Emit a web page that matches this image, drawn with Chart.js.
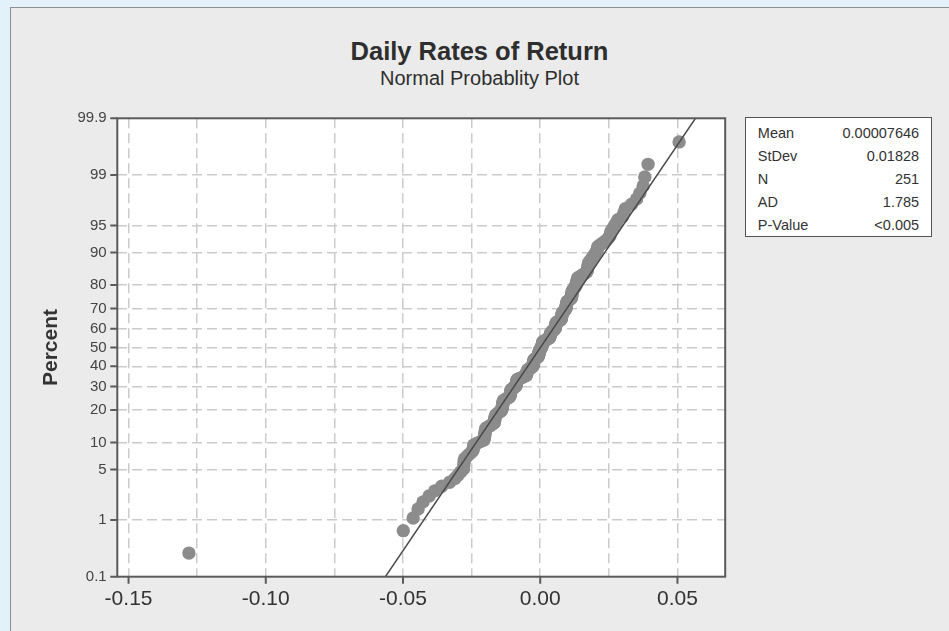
<!DOCTYPE html>
<html>
<head>
<meta charset="utf-8">
<script src="https://cdn.jsdelivr.net/npm/chart.js@4.4.0/dist/chart.umd.min.js"></script>
<style>
html,body{margin:0;padding:0;width:949px;height:631px;overflow:hidden;background:#e3f2fa;font-family:"Liberation Sans",Arial,sans-serif;}
#panel{position:absolute;left:10px;top:7px;width:960px;height:640px;background:#ebebeb;border:1px solid #8f8f8f;box-sizing:border-box;}
#wrap{position:absolute;left:0;top:0;width:949px;height:631px;}
.t{position:absolute;left:10px;width:939px;text-align:center;color:#2e2e2e;white-space:nowrap;}
#title{top:39.4px;font-size:25.5px;line-height:25.5px;font-weight:bold;}
#subtitle{top:68.1px;font-size:20px;line-height:20px;}
#stats{position:absolute;left:745px;top:117px;width:187px;height:120px;box-sizing:border-box;border:1.5px solid #555;background:#fff;padding:4.3px 11.9px 0 11.8px;font-size:14.5px;color:#333;}
#stats .r{display:flex;justify-content:space-between;height:22.9px;line-height:22.9px;}
</style>
</head>
<body>
<div id="panel"></div>
<div id="title" class="t">Daily Rates of Return</div>
<div id="subtitle" class="t">Normal Probablity Plot</div>
<div id="wrap"><canvas id="c" width="949" height="631"></canvas></div>
<div id="stats"></div>
<script>
// ---- data ----
const statLabels = ["Mean", "StDev", "N", "AD", "P-Value"];
const statValues = ["0.00007646", "0.01828", "251", "1.785", "<0.005"];
const mean = 0.00007646;
const stdev = 0.01828;
const percentTicks = [0.1, 1, 5, 10, 20, 30, 40, 50, 60, 70, 80, 90, 95, 99, 99.9];
const percentLabels = ["0.1","1","5","10","20","30","40","50","60","70","80","90","95","99","99.9"];
const xTickValues = [-0.15, -0.125, -0.10, -0.075, -0.05, -0.025, 0.00, 0.025, 0.05];
const xTickLabels = ["-0.15", "", "-0.10", "", "-0.05", "", "0.00", "", "0.05"];
// sorted daily returns (251 values)
const returns = [
-0.1280,-0.0499,-0.0463,-0.0445,-0.0427,-0.0405,-0.0384,-0.0359,-0.0330,-0.0311,
-0.0300,-0.0290,-0.0280,
-0.0279,-0.0278,-0.0277,-0.0276,-0.0268,-0.0260,-0.0252,-0.0245,-0.0244,-0.0243,
-0.0242,-0.0230,-0.0218,-0.0205,
-0.0204,-0.0203,-0.0202,-0.0202,-0.0201,-0.0200,-0.0199,-0.0198,-0.0190,-0.0182,
-0.0175,-0.0168,-0.0167,-0.0166,-0.0166,-0.0165,-0.0164,-0.0163,-0.0162,-0.0157,
-0.0152,-0.0146,-0.0141,
-0.0140,-0.0139,-0.0139,-0.0138,-0.0137,-0.0137,-0.0136,-0.0135,-0.0135,-0.0134,
-0.0128,-0.0122,-0.0116,-0.0111,-0.0110,-0.0110,-0.0109,-0.0108,-0.0108,-0.0107,
-0.0106,-0.0106,-0.0101,-0.0097,-0.0093,-0.0089,
-0.0088,-0.0088,-0.0087,-0.0086,-0.0086,-0.0085,-0.0084,-0.0084,-0.0077,-0.0070,
-0.0063,-0.0057,-0.0051,-0.0050,-0.0050,-0.0049,-0.0048,-0.0048,-0.0047,-0.0046,
-0.0042,-0.0038,-0.0034,-0.0030,-0.0027,
-0.0026,-0.0026,-0.0025,-0.0025,-0.0024,-0.0024,-0.0023,-0.0023,-0.0022,-0.0018,
-0.0014,-0.0010,-0.0007,-0.0006,-0.0006,-0.0005,-0.0005,-0.0004,-0.0004,-0.0003,
-0.0003,-0.0001,0.0001,0.0003,0.0005,
0.0006,0.0006,0.0007,0.0008,0.0008,0.0009,0.0010,0.0010,0.0015,0.0020,
0.0025,0.0030,0.0034,0.0035,0.0035,0.0036,0.0037,0.0037,0.0038,0.0039,
0.0042,0.0045,0.0048,0.0051,0.0054,
0.0055,0.0055,0.0056,0.0056,0.0057,0.0057,0.0058,0.0058,0.0063,0.0068,
0.0072,0.0076,0.0077,0.0077,0.0078,0.0078,0.0079,0.0079,0.0080,0.0080,
0.0083,0.0086,0.0088,0.0091,0.0093,
0.0094,0.0094,0.0095,0.0095,0.0096,0.0096,0.0097,0.0097,0.0101,0.0105,
0.0109,0.0113,0.0114,0.0114,0.0115,0.0115,0.0116,0.0116,0.0117,0.0117,
0.0120,0.0123,0.0125,0.0128,0.0130,
0.0131,0.0132,0.0133,0.0134,0.0135,0.0136,0.0137,0.0144,0.0151,0.0158,
0.0164,0.0170,0.0171,0.0172,0.0173,0.0174,0.0175,0.0176,0.0177,0.0181,
0.0185,0.0189,0.0193,0.0197,0.0201,0.0205,
0.0207,0.0209,0.0211,0.0220,0.0230,0.0240,0.0248,0.0254,0.0256,0.0258,
0.0264,0.0270,0.0277,
0.0283,0.0300,0.0305,0.0310,0.0333,0.0351,0.0363,0.0375,0.0381,0.0393,
0.0506
];

// ---- stats box ----
const sb = document.getElementById('stats');
statLabels.forEach((l, i) => {
  const r = document.createElement('div'); r.className = 'r';
  const a = document.createElement('span'); a.textContent = l;
  const b = document.createElement('span'); b.textContent = statValues[i];
  r.appendChild(a); r.appendChild(b); sb.appendChild(r);
});

// inverse standard normal CDF (Acklam)
function probit(p) {
  const a=[-3.969683028665376e+01,2.209460984245205e+02,-2.759285104469687e+02,1.383577518672690e+02,-3.066479806614716e+01,2.506628277459239e+00];
  const b=[-5.447609879822406e+01,1.615858368580409e+02,-1.556989798598866e+02,6.680131188771972e+01,-1.328068155288572e+01];
  const c=[-7.784894002430293e-03,-3.223964580411365e-01,-2.400758277161838e+00,-2.549671010050331e+00,4.374664141464968e+00,2.938163982698783e+00];
  const d=[7.784695709041462e-03,3.224671290700398e-01,2.445134137142996e+00,3.754408661907416e+00];
  const pl=0.02425, ph=1-pl; let q, r;
  if (p < pl) { q=Math.sqrt(-2*Math.log(p)); return (((((c[0]*q+c[1])*q+c[2])*q+c[3])*q+c[4])*q+c[5])/((((d[0]*q+d[1])*q+d[2])*q+d[3])*q+1); }
  if (p <= ph) { q=p-0.5; r=q*q; return (((((a[0]*r+a[1])*r+a[2])*r+a[3])*r+a[4])*r+a[5])*q/(((((b[0]*r+b[1])*r+b[2])*r+b[3])*r+b[4])*r+1); }
  q=Math.sqrt(-2*Math.log(1-p)); return -(((((c[0]*q+c[1])*q+c[2])*q+c[3])*q+c[4])*q+c[5])/((((d[0]*q+d[1])*q+d[2])*q+d[3])*q+1);
}

const n = returns.length;
// median-rank plotting positions
const points = returns.map((v, i) => ({ x: v, y: probit((i + 1 - 0.3) / (n + 0.4)) }));
const zMin = probit(0.001), zMax = probit(0.999);
const fitLine = [{ x: mean + zMin * stdev, y: zMin }, { x: mean + zMax * stdev, y: zMax }];

const frame = {
  id: 'frame',
  beforeDraw(chart) {
    const { ctx, chartArea: a } = chart;
    ctx.save(); ctx.fillStyle = '#ffffff';
    ctx.fillRect(a.left, a.top, a.right - a.left, a.bottom - a.top);
    ctx.restore();
  },
  afterDraw(chart) {
    const { ctx, chartArea: a, scales } = chart;
    ctx.save();
    ctx.strokeStyle = '#5a5a5a'; ctx.lineWidth = 2;
    ctx.strokeRect(a.left, a.top, a.right - a.left, a.bottom - a.top);
    ctx.beginPath();
    scales.y.ticks.forEach(t => {
      const y = scales.y.getPixelForValue(t.value);
      ctx.moveTo(a.left - 7, y); ctx.lineTo(a.left, y);
    });
    scales.x.ticks.forEach((t, i) => {
      if (!xTickLabels[i]) return;
      const x = scales.x.getPixelForValue(t.value);
      ctx.moveTo(x, a.bottom); ctx.lineTo(x, a.bottom + 7);
    });
    ctx.stroke();
    ctx.restore();
  }
};

new Chart(document.getElementById('c'), {
  type: 'scatter',
  data: {
    datasets: [
      { label: 'Fit', data: fitLine, showLine: true, borderColor: '#4a4a4a', borderWidth: 1.5, pointRadius: 0, fill: false },
      { label: 'Returns', data: points, pointRadius: 6.7, pointHoverRadius: 6.7, pointBackgroundColor: '#8c8c8c', pointBorderWidth: 0, borderWidth: 0 }
    ]
  },
  options: {
    responsive: false,
    animation: false,
    events: [],
    layout: { padding: { left: 0, top: 118.3, right: 223.8, bottom: 0 } },
    plugins: { legend: { display: false }, tooltip: { enabled: false } },
    scales: {
      x: {
        type: 'linear', min: -0.1541, max: 0.0674, bounds: 'data',
        afterBuildTicks: s => { s.ticks = xTickValues.map(v => ({ value: v })); },
        afterFit: s => { s.height = 631 - 576.7; },
        ticks: { autoSkip: false, maxRotation: 0, padding: 10, color: '#333', font: { family: '"Liberation Sans", Arial, sans-serif', size: 21 },
          callback: (v, i) => xTickLabels[i] },
        grid: { color: '#cbcbcb', lineWidth: 1.5, drawTicks: false },
        border: { display: false, dash: [10, 5] }
      },
      y: {
        type: 'linear', min: zMin, max: zMax, bounds: 'data',
        afterBuildTicks: s => { s.ticks = percentTicks.map(p => ({ value: probit(p / 100) })); },
        afterFit: s => { s.width = 117.3; },
        ticks: { autoSkip: false, padding: 10.6, color: '#444', font: { family: '"Liberation Sans", Arial, sans-serif', size: 15 },
          callback: (v, i) => percentLabels[i] },
        grid: { color: c => (c.index === 0 || c.index === percentTicks.length - 1) ? 'rgba(0,0,0,0)' : '#cbcbcb', lineWidth: 1.5, drawTicks: false },
        border: { display: false, dash: [10, 5] },
        title: { display: true, text: 'Percent', color: '#333', font: { family: '"Liberation Sans", Arial, sans-serif', size: 21, weight: 'bold' }, padding: { top: 38.4, bottom: 0 } }
      }
    }
  },
  plugins: [frame]
});
</script>
</body>
</html>
